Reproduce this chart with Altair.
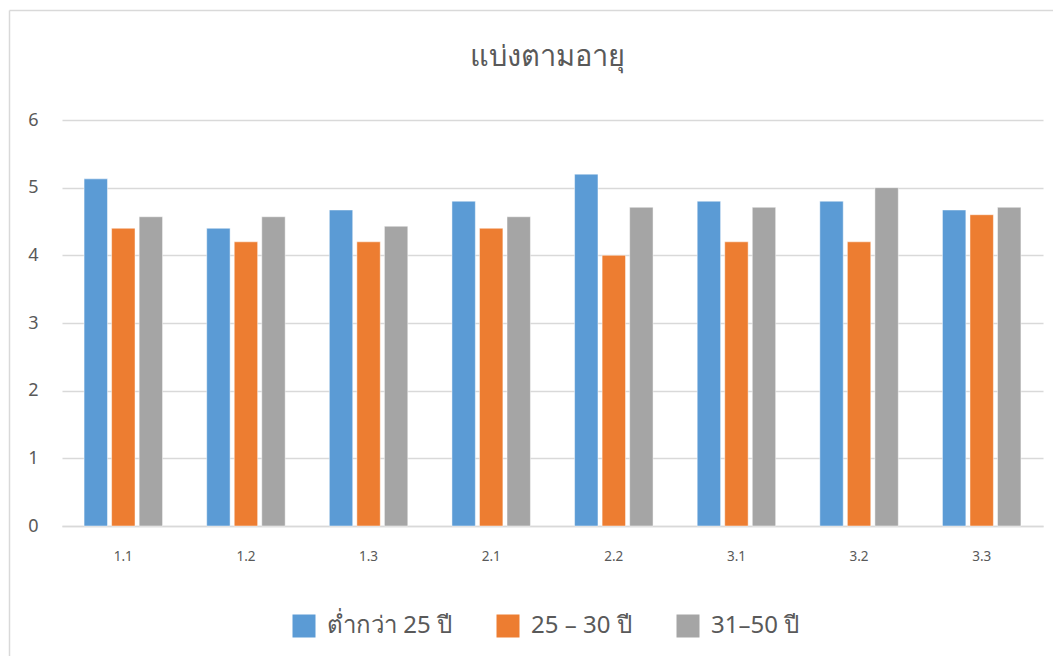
import altair as alt
import pandas as pd

categories = ["1.1", "1.2", "1.3", "2.1", "2.2", "3.1", "3.2", "3.3"]
series = ["ต่ำกว่า 25 ปี", "25 – 30 ปี", "31–50 ปี"]
s1 = [5.13, 4.40, 4.67, 4.80, 5.20, 4.80, 4.80, 4.67]
s2 = [4.40, 4.20, 4.20, 4.40, 4.00, 4.20, 4.20, 4.60]
s3 = [4.57, 4.57, 4.43, 4.57, 4.71, 4.71, 5.00, 4.71]
colors = ["#5B9BD5", "#ED7D31", "#A5A5A5"]
title_text = "แบ่งตามอายุ"

rows = []
for vals, name in zip([s1, s2, s3], series):
    for c, v in zip(categories, vals):
        rows.append({"cat": c, "series": name, "value": v})
df = pd.DataFrame(rows)

FONT = "Noto Sans"
GREY = "#595959"

W, H = 981, 406
PAD_L, PAD_T = 54, 112

bars = alt.Chart(df).mark_bar(stroke="white", strokeWidth=0.8, strokeOpacity=0.6).encode(
    x=alt.X("cat:N", sort=categories, title=None,
            scale=alt.Scale(paddingInner=0.36, paddingOuter=0.18),
            axis=alt.Axis(labelAngle=0, labelFontSize=13.5, labelColor=GREY, labelFont=FONT,
                          ticks=False, domainColor="#d9d9d9", domainWidth=1.5, labelPadding=23)),
    xOffset=alt.XOffset("series:N", sort=series, scale=alt.Scale(paddingInner=0.15, paddingOuter=0)),
    y=alt.Y("value:Q", title=None,
            scale=alt.Scale(domain=[0, 6], nice=False),
            axis=alt.Axis(values=[0, 1, 2, 3, 4, 5, 6], labelFontSize=18, labelColor=GREY,
                          labelFont=FONT, ticks=False, domain=False, gridColor="#d9d9d9",
                          gridWidth=1.5, labelPadding=24)),
    color=alt.Color("series:N", sort=series,
                    scale=alt.Scale(domain=series, range=colors),
                    legend=alt.Legend(title=None, orient="none", direction="horizontal",
                                      legendX=292 - 8 - PAD_L, legendY=614 - 8 - PAD_T,
                                      symbolType="square", symbolSize=529, symbolStrokeWidth=0,
                                      labelFontSize=24, labelColor=GREY, labelFont=FONT,
                                      columnPadding=44, labelOffset=11)),
)

one = pd.DataFrame({"a": [0]})
top_line = alt.Chart(one).mark_rule(stroke="#d9d9d9", strokeWidth=1.5, clip=False).encode(
    x=alt.value(9.5 - 8 - PAD_L), x2=alt.value(1060 - 8 - PAD_L),
    y=alt.value(10.5 - 8 - PAD_T),
)
left_line = alt.Chart(one).mark_rule(stroke="#d9d9d9", strokeWidth=1.5, clip=False).encode(
    x=alt.value(9.5 - 8 - PAD_L),
    y=alt.value(10.5 - 8 - PAD_T), y2=alt.value(668 - 8 - PAD_T),
)

title = alt.Chart(pd.DataFrame({"t": [title_text]})).mark_text(
    fontSize=29, color=GREY, font=FONT, align="center", baseline="middle", clip=False
).encode(
    text="t:N", x=alt.value(W / 2 - 5), y=alt.value(57 - 8 - PAD_T),
)

chart = alt.layer(top_line, left_line, bars, title).properties(
    width=W, height=H,
    autosize=alt.AutoSizeParams(type="none"),
    padding={"left": PAD_L, "top": PAD_T, "right": 10, "bottom": 130},
).configure(background="white").configure_view(stroke=None)

chart.save("out.html", embed_options={"renderer": "svg", "actions": False})
